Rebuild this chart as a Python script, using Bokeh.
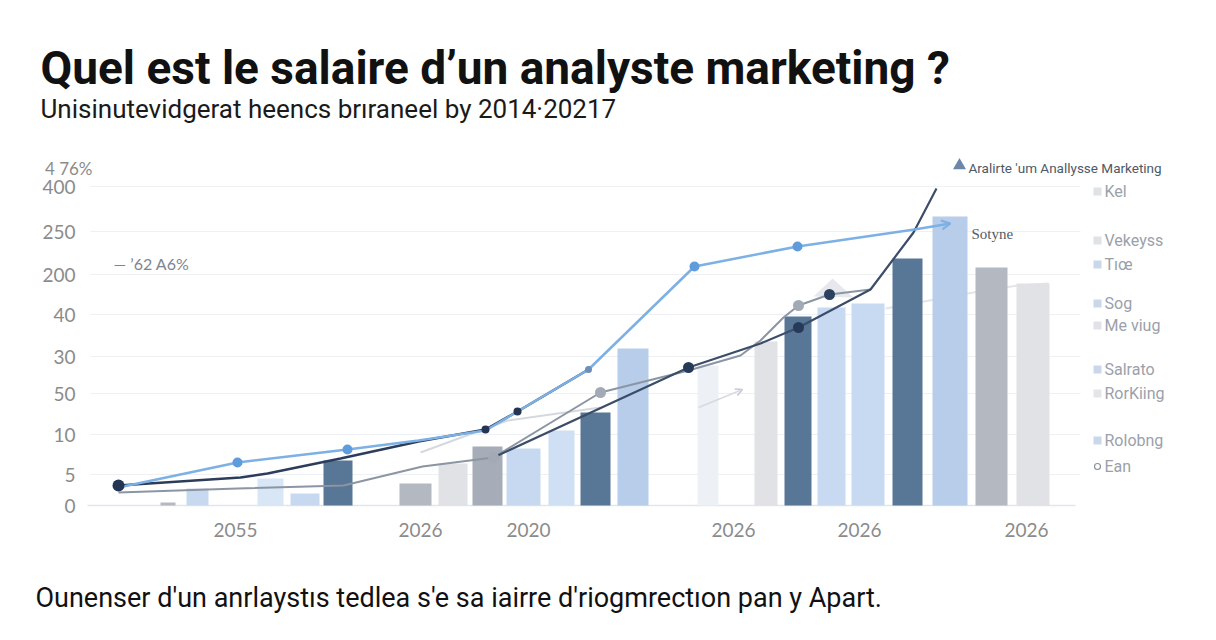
from bokeh.plotting import figure
from bokeh.models import ColumnDataSource, Label, FixedTicker, Arrow, OpenHead
from bokeh.embed import file_html
from bokeh.resources import INLINE

# ---------------- data ----------------
x_ticks = [14.0, 32.5, 43.3, 63.8, 76.4, 93.1]
x_tick_labels = ["2055", "2026", "2020", "2026", "2026", "2026"]
y_ticks = [0, 3.1, 7.1, 11.2, 14.9, 19.1, 23.1, 27.4, 31.9]
y_tick_labels = ["0", "5", "10", "50", "30", "40", "200", "250", "400"]

bar_x = [7.25, 10.2, 17.5, 20.95, 24.25, 32.0, 35.75, 39.2, 42.8, 46.6, 50.0,
         53.75, 61.25, 67.05, 70.25, 73.6, 77.25, 81.2, 85.45, 89.6, 93.75]
bar_h = [0.3, 1.7, 2.7, 1.2, 4.5, 2.2, 4.2, 5.9, 5.7, 7.5, 9.3,
         15.7, 14.0, 16.4, 18.9, 19.8, 20.2, 24.7, 28.9, 23.8, 22.2]
bar_group = ["gray", "blue", "pale", "blue", "dark", "gray", "light", "gray2", "blue", "blue2", "dark",
             "mid", "faint", "light", "dark", "blue3", "blue3", "dark", "mid", "gray", "light"]
bar_width = [1.5, 2.2, 2.6, 2.9, 2.9, 3.2, 2.9, 3.0, 3.4, 2.6, 3.0,
             3.1, 2.1, 2.3, 2.7, 2.8, 3.3, 3.0, 3.5, 3.2, 3.3]

line_a_x = [2.3, 14.2, 25.2, 32.3, 39.0, 42.2, 49.3, 59.9, 70.2, 81.9, 85.5]
line_a_y = [1.8, 4.3, 5.6, 6.5, 7.5, 9.4, 13.6, 23.9, 25.9, 27.6, 28.2]
line_b_x = [2.3, 14.5, 17.2, 24.5, 32.3, 39.0, 42.2, 49.3]
line_b_y = [2.0, 2.8, 3.2, 4.7, 6.4, 7.6, 9.4, 13.6]
line_c_x = [39.8, 59.3, 66.5, 70.3, 77.5, 81.8, 84.1]
line_c_y = [4.8, 13.8, 16.2, 17.8, 21.6, 27.3, 31.7]
line_e_x = [2.3, 14.2, 24.8, 32.7, 39.8, 50.5, 59.3, 64.5, 66.5, 68.8, 70.3, 73.4, 77.5]
line_e_y = [1.3, 1.7, 2.0, 3.9, 4.8, 11.3, 13.5, 15.0, 16.5, 18.8, 20.0, 21.1, 21.6]
line_f_x = [32.5, 41.2, 50.5]
line_f_y = [5.3, 8.5, 9.8]
line_g_x = [79.0, 87.8, 92.2, 95.3]
line_g_y = [19.7, 21.3, 22.0, 22.2]

legend_labels = ["Kel", "Vekeyss", "Tıœ", "Sog", "Me viug", "Salrato", "RorKiing", "Rolobng", "Ean"]
legend_y = [31.4, 26.5, 24.1, 20.2, 18.0, 13.6, 11.2, 6.5, 3.9]

title_text = "Quel est le salaire d’un analyste marketing ?"
subtitle_text = "Unisinutevidgerat heencs brıraneel by 2014·20217"
footer_text = "Ounenser d'un anrlaystıs tedlea s'e sa iairre d'riogmrectıon pan y Apart."
legend_title = "Aralirte 'um Anallysse Marketing"

# ---------------- styles ----------------
palette = {
    "gray": "#b3b8c1", "gray2": "#a6adb8", "blue": "#c7d9f0", "blue2": "#cfe0f4",
    "blue3": "#c8daf2", "pale": "#d9e6f6", "dark": "#587695", "mid": "#b7cde9",
    "light": "#e0e2e6", "faint": "#edf1f6",
}
FONT = "Roboto"

p = figure(width=1200, height=624, output_backend="svg", toolbar_location=None,
           x_range=(-9.5, 110.5), y_range=(-11.9, 50.5),
           min_border_left=0, min_border_right=0, min_border_top=0, min_border_bottom=0)
p.outline_line_color = None
p.grid.visible = False
p.background_fill_color = "white"
p.border_fill_color = "white"

# axes (fixed inside the frame at the zero lines)
p.xaxis.fixed_location = 0
p.yaxis.fixed_location = 0
p.xaxis.ticker = FixedTicker(ticks=x_ticks)
p.xaxis.major_label_overrides = {t: l for t, l in zip(x_ticks, x_tick_labels)}
p.yaxis.ticker = FixedTicker(ticks=y_ticks)
p.yaxis.major_label_overrides = {t: l for t, l in zip(y_ticks, y_tick_labels)}
for ax in (p.xaxis, p.yaxis):
    ax.axis_line_color = None
    ax.major_tick_line_color = None
    ax.minor_tick_line_color = None
    ax.major_label_text_font = "Lato"
    ax.major_label_text_font_size = "19px"
    ax.major_label_text_color = "#8b8b8b"
p.xaxis.major_label_standoff = 11
p.yaxis.major_label_standoff = 14

# gridlines (limited to the chart area)
p.segment(x0=-0.5, x1=98.5, y0=y_ticks[1:], y1=y_ticks[1:], line_color="#eef0f3", line_width=1.2)
p.segment(x0=-0.8, x1=98.0, y0=[y_ticks[0]], y1=[y_ticks[0]], line_color="#e2e5e9", line_width=1.6)

# faint background trend behind the last bars
p.line(line_g_x, line_g_y, line_color="#e2e5e9", line_width=2)

# bars
src = ColumnDataSource(dict(x=bar_x, top=bar_h, w=bar_width,
                            color=[palette[g] for g in bar_group]))
p.vbar(x="x", top="top", width="w", bottom=0, source=src, fill_color="color", line_color=None)

# faint triangle on a bar
p.patch(x=[71.8, 73.7, 75.8], y=[20.9, 22.7, 20.8], fill_color="#e3e6eb", line_color=None, fill_alpha=0.9)

# lines
p.line(line_f_x, line_f_y, line_color="#d5d9df", line_width=2)
p.line(line_e_x, line_e_y, line_color="#8b95a3", line_width=2)
p.line(line_c_x, line_c_y, line_color="#3b4d69", line_width=2.2)
p.line(line_b_x, line_b_y, line_color="#2b3d5b", line_width=2.5)
p.line(line_a_x[:-1], line_a_y[:-1], line_color="#7db0e4", line_width=2.5)
p.add_layout(Arrow(end=OpenHead(size=9, line_color="#7db0e4", line_width=2),
                   x_start=line_a_x[-2], y_start=line_a_y[-2], x_end=line_a_x[-1], y_end=line_a_y[-1],
                   line_color="#7db0e4", line_width=2.5))
p.add_layout(Arrow(end=OpenHead(size=7, line_color="#c4c9d0", line_width=1.5),
                   x_start=60.3, y_start=9.8, x_end=64.7, y_end=11.6,
                   line_color="#d6dae0", line_width=1.5))

# markers
p.scatter([line_a_x[i] for i in (1, 2, 7, 8)], [line_a_y[i] for i in (1, 2, 7, 8)],
          size=10, fill_color="#5e9cdb", line_color=None)
p.scatter([line_a_x[6]], [line_a_y[6]], size=7, fill_color="#6b8fb8", line_color=None)
p.scatter([line_b_x[0]], [line_b_y[0]], size=12, fill_color="#233553", line_color=None)
p.scatter([line_b_x[i] for i in (5, 6)], [line_b_y[i] for i in (5, 6)], size=8,
          fill_color="#233553", line_color=None)
p.scatter([line_c_x[i] for i in (1, 3)], [line_c_y[i] for i in (1, 3)], size=11,
          fill_color="#263a5a", line_color=None)
p.scatter([line_e_x[i] for i in (4, 5, 10)], [line_e_y[i] for i in (4, 5, 10)], size=11,
          fill_color="#a2aab5", line_color=None)
p.scatter([line_e_x[11]], [line_e_y[11]], size=11, fill_color="#2c4060", line_color=None)

# in-chart annotations
p.add_layout(Label(x=-0.3, y=33.7, text="4 76%", text_align="right", text_baseline="middle",
                   text_font="Lato", text_font_size="17px", text_color="#8b8b8b"))
p.add_layout(Label(x=1.8, y=24.2, text="— ’62 A6%", text_baseline="middle",
                   text_font="Lato", text_font_size="16px", text_color="#7d8590"))
p.add_layout(Label(x=87.6, y=27.2, text="Sotyne", text_baseline="middle",
                   text_font="Liberation Serif", text_font_size="15px", text_color="#555b63"))

# custom legend
p.scatter([86.4], [34.0], marker="triangle", size=13, fill_color="#6c87a9", line_color=None)
p.add_layout(Label(x=87.3, y=33.8, text=legend_title, text_baseline="middle",
                   text_font=FONT, text_font_size="13.5px", text_color="#4f5866"))
p.scatter([100.2] * (len(legend_y) - 1), legend_y[:-1], marker="square", size=8,
          fill_color=["#dfe2e6", "#dfe2e6", "#c8d7ea", "#c8d7ea", "#dfe2e6",
                      "#c8d7ea", "#e3e5e8", "#c8d7ea"], line_color=None)
p.scatter([100.2], [legend_y[-1]], marker="circle", size=6, fill_color="white",
          line_color="#8a929c", line_width=1.2)
for lbl, yy in zip(legend_labels, legend_y):
    p.add_layout(Label(x=100.9, y=yy, text=lbl, text_baseline="middle",
                       text_font=FONT, text_font_size="16px", text_color="#9aa1ab"))

# titles
p.add_layout(Label(x=-5.5, y=43.8, text=title_text, text_baseline="alphabetic",
                   text_font=FONT, text_font_style="bold", text_font_size="46px",
                   text_color="#111111"))
p.add_layout(Label(x=-5.5, y=39.7, text=subtitle_text, text_baseline="alphabetic",
                   text_font=FONT, text_font_size="26px", text_color="#1a1a1a"))
p.add_layout(Label(x=-6.0, y=-9.2, text=footer_text, text_baseline="alphabetic",
                   text_font=FONT, text_font_size="27px", text_color="#111111"))

open("out.html", "w").write(file_html(p, INLINE))
